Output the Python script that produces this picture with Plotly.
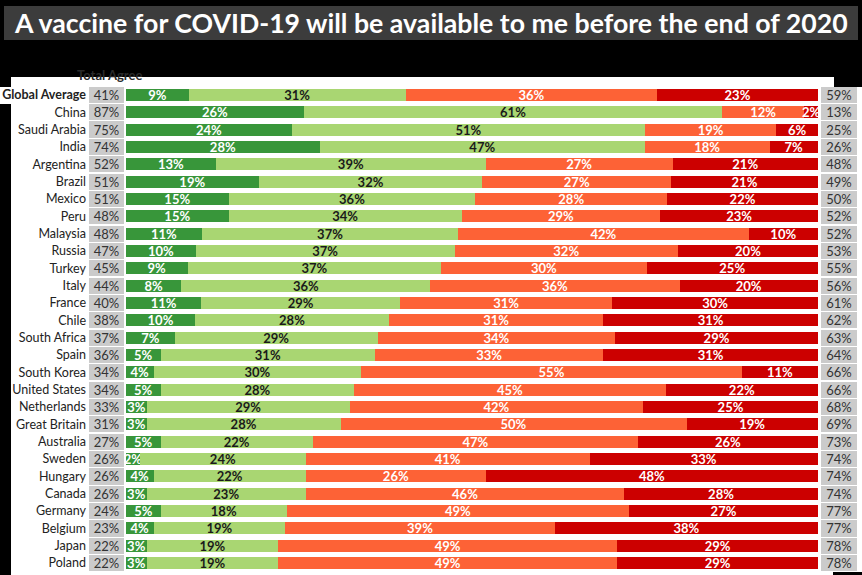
import plotly.graph_objects as go

countries = ["Global Average", "China", "Saudi Arabia", "India", "Argentina", "Brazil", "Mexico",
             "Peru", "Malaysia", "Russia", "Turkey", "Italy", "France", "Chile", "South Africa",
             "Spain", "South Korea", "United States", "Netherlands", "Great Britain", "Australia",
             "Sweden", "Hungary", "Canada", "Germany", "Belgium", "Japan", "Poland"]
total_agree = [41, 87, 75, 74, 52, 51, 51, 48, 48, 47, 45, 44, 40, 38, 37, 36, 34, 34, 33, 31,
               27, 26, 26, 26, 24, 23, 22, 22]
strongly_agree = [9, 26, 24, 28, 13, 19, 15, 15, 11, 10, 9, 8, 11, 10, 7, 5, 4, 5, 3, 3,
                  5, 2, 4, 3, 5, 4, 3, 3]
somewhat_agree = [31, 61, 51, 47, 39, 32, 36, 34, 37, 37, 37, 36, 29, 28, 29, 31, 30, 28, 29, 28,
                  22, 24, 22, 23, 18, 19, 19, 19]
somewhat_disagree = [36, 12, 19, 18, 27, 27, 28, 29, 42, 32, 30, 36, 31, 31, 34, 33, 55, 45, 42, 50,
                     47, 41, 26, 46, 49, 39, 49, 49]
strongly_disagree = [23, 2, 6, 7, 21, 21, 22, 23, 10, 20, 25, 20, 30, 31, 29, 31, 11, 22, 25, 19,
                     26, 33, 48, 28, 27, 38, 29, 29]
total_disagree = [59, 13, 25, 26, 48, 49, 50, 52, 52, 53, 55, 56, 61, 62, 63, 64, 66, 66, 68, 69,
                  73, 74, 74, 74, 77, 77, 78, 78]

W, H = 862, 575
FONT = "Lato"

def px(x):
    return x / W

def py(y):
    return 1 - y / H

fig = go.Figure()

series = [
    (strongly_agree, "#38963a", "white"),
    (somewhat_agree, "#a9d672", "#1a1a1a"),
    (somewhat_disagree, "#fd6236", "white"),
    (strongly_disagree, "#cc0000", "white"),
]
for vals, col, tcol in series:
    fig.add_trace(go.Bar(
        y=countries, x=vals, orientation="h", marker=dict(color=col, line=dict(width=0)),
        width=0.68, text=[f"<b>{v}%</b>" for v in vals], textposition="inside",
        insidetextanchor="middle", textangle=0,
        textfont=dict(color=tcol, size=13, family=FONT), cliponaxis=True,
        hoverinfo="skip", xaxis="x", yaxis="y", showlegend=False))

fig.add_trace(go.Bar(
    y=countries, x=[1] * len(countries), orientation="h",
    marker=dict(color="#cbcbcb", line=dict(width=0)), width=0.94,
    text=[f"{v}%" for v in total_agree], textposition="inside", insidetextanchor="middle",
    textangle=0, textfont=dict(color="#333333", size=13, family=FONT),
    xaxis="x2", yaxis="y", showlegend=False, hoverinfo="skip"))
fig.add_trace(go.Bar(
    y=countries, x=[1] * len(countries), orientation="h",
    marker=dict(color="#cbcbcb", line=dict(width=0)), width=0.94,
    text=[f"{v}%" for v in total_disagree], textposition="inside", insidetextanchor="middle",
    textangle=0, textfont=dict(color="#333333", size=13, family=FONT),
    xaxis="x3", yaxis="y", showlegend=False, hoverinfo="skip"))

ticktext = ["<b>" + countries[0] + "</b>"] + countries[1:]

shapes = [
    # white panel
    dict(type="rect", xref="paper", yref="paper", x0=px(11), x1=1, y0=0, y1=py(77),
         fillcolor="white", line=dict(width=0), layer="below"),
    dict(type="rect", xref="paper", yref="paper", x0=px(834), x1=1, y0=py(87), y1=py(77),
         fillcolor="black", line=dict(width=0), layer="below"),
    dict(type="rect", xref="paper", yref="paper", x0=px(833), x1=1, y0=0, y1=py(572),
         fillcolor="black", line=dict(width=0), layer="below"),
    # Global Average label box
    dict(type="rect", xref="paper", yref="paper", x0=0, x1=px(88), y0=py(104), y1=py(87),
         fillcolor="white", line=dict(width=0), layer="below"),
    # title bar
    dict(type="rect", xref="paper", yref="paper", x0=px(4), x1=px(858), y0=py(40), y1=py(6),
         fillcolor="#3c3c3c", line=dict(width=0), layer="below"),
]

fig.update_layout(
    width=W, height=H, margin=dict(l=0, r=0, t=0, b=0),
    paper_bgcolor="black", plot_bgcolor="rgba(0,0,0,0)",
    barmode="stack", barnorm="percent",
    uniformtext=dict(minsize=13, mode="show"),
    font=dict(family=FONT),
    xaxis=dict(domain=[px(126), px(818)], range=[0, 100], visible=False, fixedrange=True),
    xaxis2=dict(domain=[px(89), px(124)], range=[0, 100], visible=False, anchor="y"),
    xaxis3=dict(domain=[px(821), px(857)], range=[0, 100], visible=False, anchor="y"),
    yaxis=dict(domain=[py(571.7), py(86.3)], type="category", categoryarray=countries,
               range=[27.5, -0.5], anchor="free", position=px(89),
               tickmode="array", tickvals=countries, ticktext=ticktext,
               tickfont=dict(family=FONT, size=12.5, color="#222222"),
               showgrid=False, zeroline=False, showline=False, ticks="", ticklabelstandoff=3),
    shapes=shapes,
    annotations=[
        dict(text="<b>A vaccine for COVID-19 will be available to me before the end of 2020</b>",
             xref="paper", yref="paper", x=px(431), y=py(23), showarrow=False,
             xanchor="center", yanchor="middle",
             font=dict(family=FONT, size=26.7, color="white")),
        dict(text="<b>Total Agree</b>", xref="paper", yref="paper", x=px(109), y=py(75),
             showarrow=False, xanchor="center", yanchor="middle",
             font=dict(family=FONT, size=13, color="#2a2a2a")),
    ],
)

fig.write_html("out.html", config={"displayModeBar": False},
               post_script="document.body.style.margin='0';document.body.style.background='black';")
